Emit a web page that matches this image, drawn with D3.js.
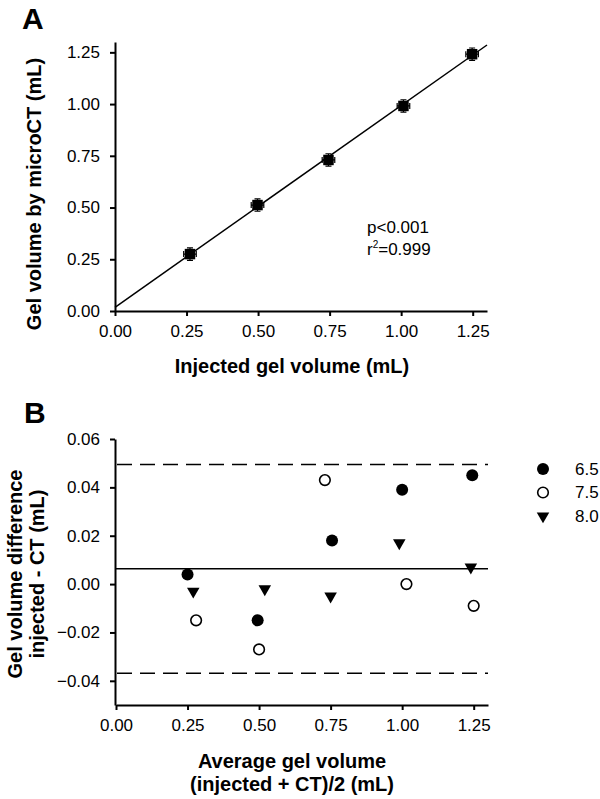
<!DOCTYPE html>
<html>
<head>
<meta charset="utf-8">
<script src="https://cdn.jsdelivr.net/npm/d3@7"></script>
<style>
  body { margin: 0; background: #fff; }
  svg text { font-family: "Liberation Sans", Arial, sans-serif; fill: #000; }
  .axis path, .axis line { stroke: #000; stroke-width: 2; }
  .title { font-size: 20px; font-weight: bold; }
  .panel { font-size: 30px; font-weight: bold; }
</style>
</head>
<body>
<div class="canvas"></div>
<script>
// panel A: injected vs microCT volume
const injected = [0.262, 0.498, 0.746, 1.008, 1.248];
const measured = [0.275, 0.512, 0.730, 0.991, 1.241];
const injectedErr = [0.022, 0.022, 0.022, 0.022, 0.022];
const measuredErr = [0.03, 0.03, 0.03, 0.03, 0.03];
const fitSlope = 0.975, fitIntercept = 0.018;
const ticksA = [0, 0.25, 0.5, 0.75, 1.0, 1.25];

// panel B: Bland-Altman, one series per pH
const groups = ['6.5', '7.5', '8.0'];
const avg65 = [0.25, 0.495, 0.755, 1.0, 1.245];
const diff65 = [0.004, -0.015, 0.018, 0.039, 0.045];
const avg75 = [0.28, 0.50, 0.73, 1.015, 1.25];
const diff75 = [-0.015, -0.027, 0.043, 0.000, -0.009];
const avg80 = [0.27, 0.52, 0.75, 0.99, 1.24];
const diff80 = [-0.003, -0.002, -0.005, 0.017, 0.007];
const meanDiff = 0.0063, upperLoA = 0.0495, lowerLoA = -0.0369;
const ticksBy = [-0.04, -0.02, 0, 0.02, 0.04, 0.06];

const width = 600, height = 799;

const svg = d3.select('.canvas').append('svg')
    .attr('width', width)
    .attr('height', height);

const fmt = d3.format('.2f');

// axes get the same font as the rest of the figure
const styleAxis = g => g
    .attr('font-size', 17)
    .attr('font-family', '"Liberation Sans", Arial, sans-serif')
    .selectAll('text')
    .style('font-size', '17px');

// ---------- panel A ----------
const xA = d3.scaleLinear().domain([0, 1.3]).range([115, 487]);
const yA = d3.scaleLinear().domain([0, 1.3]).range([311, 42]);

svg.append('g')
    .attr('class', 'axis')
    .attr('transform', `translate(0, ${yA(0)})`)
    .call(d3.axisBottom(xA).tickValues(ticksA).tickFormat(fmt).tickSize(5).tickPadding(9).tickSizeOuter(0))
    .call(styleAxis);

svg.append('g')
    .attr('class', 'axis')
    .attr('transform', `translate(${xA(0)}, 0)`)
    .call(d3.axisLeft(yA).tickValues(ticksA).tickFormat(fmt).tickSize(5).tickPadding(10).tickSizeOuter(0))
    .call(styleAxis);

// regression line
svg.append('line')
    .attr('x1', xA(0)).attr('y1', yA(fitIntercept))
    .attr('x2', xA(1.3)).attr('y2', yA(fitIntercept + fitSlope * 1.3))
    .attr('stroke', '#000')
    .attr('stroke-width', 1.5);

const ptsA = injected.map((x, i) => ({x, y: measured[i], ex: injectedErr[i], ey: measuredErr[i]}));

const markA = svg.append('g').selectAll('g')
    .data(ptsA)
    .enter()
    .append('g');

// error bars with caps
markA.append('path')
    .attr('d', d => {
      const cx = xA(d.x), cy = yA(d.y);
      const x0 = xA(d.x - d.ex), x1 = xA(d.x + d.ex);
      const y0 = yA(d.y - d.ey), y1 = yA(d.y + d.ey);
      return `M${x0},${cy}H${x1}M${x0},${cy - 3}V${cy + 3}M${x1},${cy - 3}V${cy + 3}` +
             `M${cx},${y0}V${y1}M${cx - 3},${y0}H${cx + 3}M${cx - 3},${y1}H${cx + 3}`;
    })
    .attr('stroke', '#000')
    .attr('stroke-width', 1.2)
    .attr('fill', 'none');

markA.append('path')
    .attr('transform', d => `translate(${xA(d.x)}, ${yA(d.y)})`)
    .attr('d', d3.symbol(d3.symbolSquare, 110))
    .attr('fill', '#000');

svg.append('text')
    .attr('x', 367).attr('y', 233)
    .style('font-size', '17px')
    .text('p<0.001');

const r2 = svg.append('text')
    .attr('x', 367).attr('y', 255)
    .style('font-size', '17px');
r2.append('tspan').text('r');
r2.append('tspan').attr('dy', -7).style('font-size', '10px').text('2');
r2.append('tspan').attr('dy', 7).text('=0.999');

svg.append('text')
    .attr('class', 'title')
    .attr('text-anchor', 'middle')
    .attr('transform', `translate(41, 194) rotate(-90)`)
    .text('Gel volume by microCT (mL)');

svg.append('text')
    .attr('class', 'title')
    .attr('text-anchor', 'middle')
    .attr('x', 292).attr('y', 373)
    .text('Injected gel volume (mL)');

svg.append('text')
    .attr('class', 'panel')
    .attr('x', 22).attr('y', 29)
    .text('A');

// ---------- panel B ----------
const xB = d3.scaleLinear().domain([0, 1.3]).range([116, 488]);
const yB = d3.scaleLinear().domain([-0.05, 0.06]).range([705, 439]);

svg.append('g')
    .attr('class', 'axis')
    .attr('transform', `translate(0, ${yB(-0.05)})`)
    .call(d3.axisBottom(xB).tickValues(ticksA).tickFormat(fmt).tickSize(5).tickPadding(9).tickSizeOuter(0))
    .call(styleAxis);

svg.append('g')
    .attr('class', 'axis')
    .attr('transform', `translate(${xA(0)}, 0)`)
    .call(d3.axisLeft(yB).tickValues(ticksBy).tickFormat(fmt).tickSize(5).tickPadding(10).tickSizeOuter(0))
    .call(styleAxis);

// mean difference and limits of agreement
svg.append('line')
    .attr('x1', xA(0)).attr('x2', xB(1.3))
    .attr('y1', yB(meanDiff)).attr('y2', yB(meanDiff))
    .attr('stroke', '#000').attr('stroke-width', 1.5);

[upperLoA, lowerLoA].forEach(v => {
  svg.append('line')
      .attr('x1', xA(0) + 2).attr('x2', xB(1.3))
      .attr('y1', yB(v)).attr('y2', yB(v))
      .attr('stroke', '#000').attr('stroke-width', 1.5)
      .attr('stroke-dasharray', '15,8');
});

const series = [
  {name: groups[0], xs: avg65, ys: diff65, type: 'filled'},
  {name: groups[1], xs: avg75, ys: diff75, type: 'open'},
  {name: groups[2], xs: avg80, ys: diff80, type: 'tri'}
];

const drawMark = (sel, type) => {
  if (type === 'tri') {
    sel.append('path')
        .attr('d', d3.symbol(d3.symbolTriangle, 68))
        .attr('transform', d => `translate(${d[0]}, ${d[1]}) rotate(180)`)
        .attr('fill', '#000');
  } else {
    sel.append('circle')
        .attr('cx', d => d[0]).attr('cy', d => d[1])
        .attr('r', type === 'open' ? 5.3 : 6)
        .attr('fill', type === 'open' ? '#fff' : '#000')
        .attr('stroke', '#000')
        .attr('stroke-width', type === 'open' ? 1.6 : 0);
  }
};

series.forEach(s => {
  const g = svg.append('g').selectAll('g')
      .data(s.xs.map((x, i) => [xB(x), yB(s.ys[i])]))
      .enter()
      .append('g');
  drawMark(g, s.type);
});

// legend
const legend = svg.append('g').selectAll('g')
    .data(series)
    .enter()
    .append('g');

legend.each(function(s, i) {
  const cy = 469 + i * 23.5;
  drawMark(d3.select(this).selectAll('x').data([[543, cy]]).enter().append('g'), s.type);
  d3.select(this).append('text')
      .attr('x', 575).attr('y', cy)
      .attr('dy', '0.35em')
      .style('font-size', '17px')
      .text(s.name);
});

const yTitleB = svg.append('text')
    .attr('class', 'title')
    .attr('text-anchor', 'middle')
    .attr('transform', `translate(22, 574) rotate(-90)`);
yTitleB.append('tspan').attr('x', 0).attr('y', 0).text('Gel volume difference');
yTitleB.append('tspan').attr('x', 0).attr('y', 22).text('injected - CT (mL)');

svg.append('text')
    .attr('class', 'title')
    .attr('text-anchor', 'middle')
    .attr('x', 292).attr('y', 768)
    .text('Average gel volume');

svg.append('text')
    .attr('class', 'title')
    .attr('text-anchor', 'middle')
    .attr('x', 292).attr('y', 791)
    .text('(injected + CT)/2 (mL)');

svg.append('text')
    .attr('class', 'panel')
    .attr('x', 24).attr('y', 423)
    .text('B');
</script>
</body>
</html>
